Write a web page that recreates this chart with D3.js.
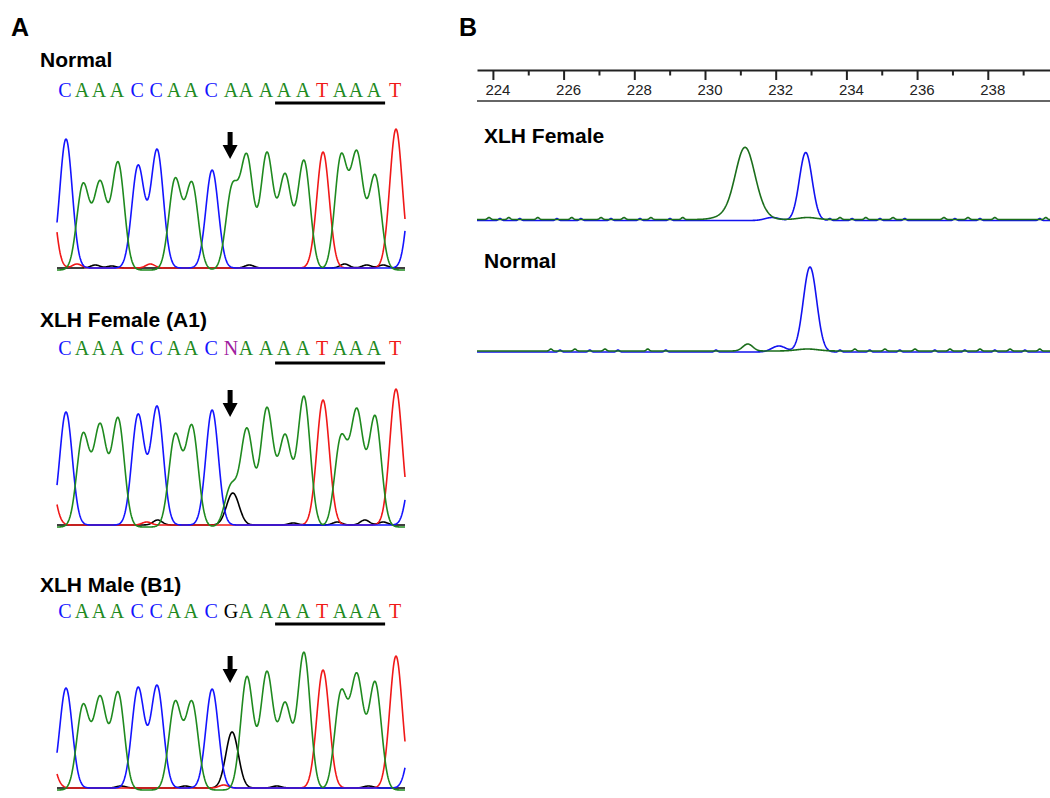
<!DOCTYPE html>
<html>
<head>
<meta charset="utf-8">
<script src="https://cdn.jsdelivr.net/npm/d3@7/dist/d3.min.js"></script>
<style>
    body { margin: 0; background: #fff; }
    svg { display: block; }
</style>
</head>
<body>
<div id="chart"></div>
<script>
// ---- Panel A data: called bases, peak positions (base index units), peak heights ----
var seqNormal = ["C","A","A","A","C","C","A","A","C","A","A","A","A","A","T","A","A","A","T"];
var seqA1     = ["C","A","A","A","C","C","A","A","C","N","A","A","A","A","T","A","A","A","T"];
var seqB1     = ["C","A","A","A","C","C","A","A","C","G","A","A","A","A","T","A","A","A","T"];

// Where each peak sits along the read (0 = first base)
var peakPos = [0, 0.93, 1.86, 2.84, 3.93, 4.97, 5.95, 6.87, 7.97, 9.06, 9.87, 10.96, 11.95, 12.98, 14.02, 15.0, 15.87, 16.86, 18.0];

// Peak heights of the called base (null = given in the extras below)
var heightsNormal = [129, 85, 86, 107, 102, 118, 90, 86, 98, 80, 111, 116, 94, 109, 116, 112, 114, 94, 139];
var heightsA1     = [113, 92, 100, 108, 110, 118, 91, 100, 115, null, 97, 118, 90, 130, 125, 88, 114, 110, 136];
var heightsB1     = [100, 84, 91, 97, 100, 102, 87, 87, 99, 56, 113, 117, 85, 137, 118, 96, 112, 107, 132];

// Extra peaks: [channel, position, height]  (edge peaks + small background bumps)
var extrasNormal = [["T", -1, 110], ["C", 19, 114], ["T", 0.6, 4], ["G", 1.6, 3], ["G", 2.5, 2], ["T", 4.6, 4],
                    ["G", 10.0, 3], ["G", 15.2, 4], ["G", 16.4, 3], ["G", 17.3, 3]];
var extrasA1 = [["T", -1, 63], ["C", 19, 77], ["A", 9.0, 40], ["G", 9.1, 32], ["G", 5.0, 5], ["T", 4.4, 3],
                ["G", 12.4, 2], ["G", 14.8, 3], ["G", 16.3, 5], ["G", 17.3, 3]];
var extrasB1 = [["T", -1, 43], ["C", 19, 62], ["G", 3.0, 2], ["G", 6.5, 2], ["T", 8.6, 3], ["G", 11.5, 2], ["G", 16.5, 2]];

// ---- Panel B data: fragment sizes (bp) ----
var majorTicks = [224, 226, 228, 230, 232, 234, 236, 238];
var minorTicks = [225, 227, 229, 231, 233, 235, 237, 239];

// [channel, size, height, width]
var femalePeaks = [["green", 231.13, 70, 0.27], ["green", 230.62, 4, 0.3], ["green", 231.55, 5, 0.25],
                   ["green", 232.9, 2, 0.25], ["blue", 232.85, 68, 0.18], ["blue", 231.9, 3, 0.2]];
var normalPeaks = [["green", 231.21, 7, 0.14], ["green", 232.9, 2, 0.3],
                   ["blue", 232.97, 85, 0.19], ["blue", 232.09, 6, 0.2]];

// Little specks along the baselines: [channel, size]
var femaleSpecks = [["green", 223.89], ["blue", 224.2], ["green", 224.45], ["blue", 224.76], ["green", 225.27],
                    ["blue", 225.81], ["green", 226.23], ["blue", 226.49], ["green", 227.06], ["blue", 227.34],
                    ["green", 227.71], ["blue", 228.16], ["green", 228.47], ["blue", 229.01], ["green", 229.37],
                    ["blue", 233.53], ["green", 233.82], ["blue", 234.16], ["green", 234.55], ["blue", 234.95],
                    ["green", 235.32], ["blue", 235.65], ["green", 236.76], ["blue", 237.07], ["green", 237.44],
                    ["blue", 237.78], ["green", 238.2], ["blue", 239.47], ["green", 239.64]];
var normalSpecks = [["green", 225.64], ["blue", 225.9], ["green", 226.32], ["blue", 226.74], ["green", 227.17],
                    ["blue", 227.54], ["green", 228.38], ["blue", 228.89], ["blue", 230.31],
                    ["blue", 233.82], ["green", 234.24], ["blue", 234.66], ["green", 235.09], ["blue", 235.51],
                    ["green", 235.94], ["blue", 236.5], ["green", 236.93], ["blue", 237.35], ["green", 237.78],
                    ["blue", 238.2], ["green", 238.63], ["blue", 239.05], ["green", 239.47]];

// ---- styles ----
var baseColor = {A: "#1f8a1f", C: "#1414ff", T: "#f01818", G: "#000000", N: "#a020a0"};
var fragColor = {green: "#1b6e1b", blue: "#1212f0"};
var sansFont = "'Liberation Sans', Arial, sans-serif";
var seqFont = "'Liberation Serif', 'Times New Roman', serif";
var peakWidth = 0.34;     // gaussian sigma, in base units

var width = 1050, height = 798;

var svg = d3.select("#chart").append("svg")
    .attr("width", width)
    .attr("height", height)
    .attr("viewBox", "0 0 " + width + " " + height);

// Sum of gaussian peaks at position t
function peakSum(peaks, t) {
    return d3.sum(peaks, function (p) {
        return p[2] * Math.exp(-0.5 * Math.pow((t - p[1]) / p[3], 2));
    });
}

// ---------------- Panel A ----------------
var xA = d3.scaleLinear().domain([0, 18]).range([66, 396]);
var traceStart = 57, traceEnd = 405;

var samples = [
    {title: "Normal", seq: seqNormal, heights: heightsNormal, extras: extrasNormal,
     pos: {title: 67, seq: 97, line: 103, arrow: 132, base: 270}},
    {title: "XLH Female (A1)", seq: seqA1, heights: heightsA1, extras: extrasA1,
     pos: {title: 327, seq: 355, line: 363, arrow: 390, base: 527}},
    {title: "XLH Male (B1)", seq: seqB1, heights: heightsB1, extras: extrasB1,
     pos: {title: 592, seq: 618, line: 624, arrow: 656, base: 790}}
];

svg.append("text")
    .attr("x", 11).attr("y", 36)
    .style("font-family", sansFont).style("font-weight", "bold").style("font-size", "25px")
    .text("A");

samples.forEach(function (s) {
    var g = svg.append("g");

    g.append("text")
        .attr("x", 40).attr("y", s.pos.title)
        .style("font-family", sansFont).style("font-weight", "bold").style("font-size", "21px")
        .text(s.title);

    // Called bases
    g.selectAll("text.base")
        .data(s.seq)
        .enter().append("text")
        .attr("class", "base")
        .attr("x", function (d, i) { return xA(peakPos[i]) - 1; })
        .attr("y", s.pos.seq)
        .attr("text-anchor", "middle")
        .style("font-family", seqFont).style("font-size", "20px")
        .style("fill", function (d) { return baseColor[d]; })
        .text(function (d) { return d; });

    // AATAAA underline
    g.append("line")
        .attr("x1", xA(peakPos[12]) - 10).attr("x2", xA(peakPos[17]) + 10)
        .attr("y1", s.pos.line).attr("y2", s.pos.line)
        .style("stroke", "#000").style("stroke-width", 3);

    // Build peak lists per channel
    var peaks = [];
    s.seq.forEach(function (b, i) {
        if (s.heights[i] !== null) { peaks.push([b, peakPos[i], s.heights[i], peakWidth]); }
    });
    s.extras.forEach(function (e) {
        peaks.push([e[0], e[1], e[2], e[2] < 10 ? 0.25 : peakWidth]);
    });

    var y = d3.scaleLinear().domain([0, 140]).range([s.pos.base, s.pos.base - 140]);
    var xs = d3.range(traceStart, traceEnd + 0.01, 0.5);

    ["G", "T", "C", "A"].forEach(function (ch) {
        var chPeaks = peaks.filter(function (p) { return p[0] === ch; });
        var lift = ch === "A" ? 0 : 2;
        var line = d3.line()
            .x(function (x) { return x; })
            .y(function (x) { return y(peakSum(chPeaks, xA.invert(x))) - lift; });
        g.append("path")
            .datum(xs)
            .attr("d", line)
            .style("fill", "none")
            .style("stroke", baseColor[ch])
            .style("stroke-width", 1.6)
            .style("stroke-linejoin", "round");
    });

    // Arrow over the mutated position
    var ax = xA(peakPos[9]) - 2, ay = s.pos.arrow;
    g.append("path")
        .attr("d", "M" + (ax - 2.5) + "," + ay + "h5v13h5l-7.5,14l-7.5,-14h5z")
        .style("fill", "#000");
});

// ---------------- Panel B ----------------
var xB = d3.scaleLinear().domain([223.55, 239.76]).range([477, 1050]);

svg.append("text")
    .attr("x", 459).attr("y", 36)
    .style("font-family", sansFont).style("font-weight", "bold").style("font-size", "25px")
    .text("B");

var axisY = 70;
var axisG = svg.append("g").attr("transform", "translate(0," + axisY + ")");
axisG.call(d3.axisBottom(xB).tickValues(majorTicks).tickSize(10).tickSizeOuter(0).tickPadding(4));
axisG.select(".domain").style("stroke", "#222").style("stroke-width", 2);
axisG.selectAll(".tick line").style("stroke", "#222").style("stroke-width", 2);
axisG.selectAll(".tick text")
    .attr("dx", "0.3em")
    .style("font-family", sansFont).style("font-size", "15px").style("fill", "#222");

var minorG = svg.append("g").attr("transform", "translate(0," + axisY + ")");
minorG.call(d3.axisBottom(xB).tickValues(minorTicks).tickSize(5.5).tickFormat(""));
minorG.select(".domain").remove();
minorG.selectAll(".tick line").style("stroke", "#222").style("stroke-width", 2);

svg.append("line")
    .attr("x1", xB.range()[0]).attr("x2", xB.range()[1])
    .attr("y1", 101).attr("y2", 101)
    .style("stroke", "#333").style("stroke-width", 1.5);

var fragments = [
    {title: "XLH Female", peaks: femalePeaks, specks: femaleSpecks, titleY: 143, base: 219.5},
    {title: "Normal", peaks: normalPeaks, specks: normalSpecks, titleY: 268, base: 351}
];

fragments.forEach(function (f) {
    var g = svg.append("g");
    g.append("text")
        .attr("x", 484).attr("y", f.titleY)
        .style("font-family", sansFont).style("font-weight", "bold").style("font-size", "21px")
        .text(f.title);

    var y = d3.scaleLinear().domain([0, 100]).range([f.base, f.base - 100]);
    var xs = d3.range(477, 1050.01, 0.5);

    ["blue", "green"].forEach(function (ch) {
        var chPeaks = f.peaks.filter(function (p) { return p[0] === ch; })
            .concat(f.specks.filter(function (p) { return p[0] === ch; })
                .map(function (p) { return [ch, p[1], 2, 0.04]; }));
        var drop = ch === "blue" ? 1 : 0;
        var line = d3.line()
            .x(function (x) { return x; })
            .y(function (x) { return y(peakSum(chPeaks, xB.invert(x))) + drop; });
        g.append("path")
            .datum(xs)
            .attr("d", line)
            .style("fill", "none")
            .style("stroke", fragColor[ch])
            .style("stroke-width", 1.6)
            .style("stroke-linejoin", "round");
    });
});
</script>
</body>
</html>
